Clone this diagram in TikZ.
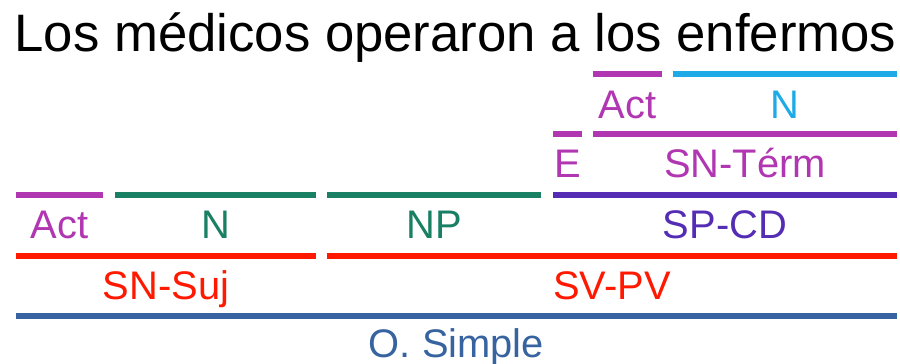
\documentclass[tikz,border=0pt]{standalone}
\usepackage{fontspec}
\setmainfont{Liberation Sans}

\definecolor{actcol}{RGB}{177,54,177}
\definecolor{nucol}{RGB}{30,170,230}
\definecolor{nuccol}{RGB}{25,128,100}
\definecolor{spcol}{RGB}{85,45,180}
\definecolor{svcol}{RGB}{255,25,0}
\definecolor{orcol}{RGB}{55,100,160}

\tikzset{
  bar/.style={line width=3.1pt},
  lbl/.style={anchor=base, inner sep=0pt, font=\fontsize{22.7}{27}\selectfont},
}

\begin{document}
\begin{tikzpicture}[x=0.02cm, y=-0.02cm]
\useasboundingbox (0,0) rectangle (900,364);
\node[anchor=base, inner sep=0pt, font=\fontsize{30}{36}\selectfont] (title) at (455.5,52) {Los médicos operaron a los enfermos};
% los enfermos
\draw[bar,actcol] (593,74) -- (662,74);
\draw[bar,nucol] (673,74) -- (897,74);
\node[lbl,text=actcol] (act2) at (627.5,119) {Act};
\node[lbl,text=nucol] (n2) at (785,119) {N};
% a los enfermos
\draw[bar,actcol] (553,134) -- (582,134);
\draw[bar,actcol] (593,134) -- (897,134);
\node[lbl,text=actcol] (e) at (567.5,178) {E};
\node[lbl,text=actcol] (snterm) at (745,178) {SN-Térm};
% palabras
\draw[bar,actcol] (16,195) -- (103,195);
\draw[bar,nuccol] (115,195) -- (316,195);
\draw[bar,nuccol] (327,195) -- (541,195);
\draw[bar,spcol] (553,195) -- (897,195);
\node[lbl,text=actcol] (act1) at (59.5,239) {Act};
\node[lbl,text=nuccol] (n1) at (215.5,239) {N};
\node[lbl,text=nuccol] (np) at (434,239) {NP};
\node[lbl,text=spcol] (spcd) at (725,239) {SP-CD};
% sujeto y predicado
\draw[bar,svcol] (16,256) -- (316,256);
\draw[bar,svcol] (327,256) -- (897,256);
\node[lbl,text=svcol] (snsuj) at (166,300) {SN-Suj};
\node[lbl,text=svcol] (svpv) at (612,300) {SV-PV};
% oracion
\draw[bar,orcol] (16,316) -- (897,316);
\node[lbl,text=orcol] (osimple) at (456.5,358) {O. Simple};
\end{tikzpicture}
\end{document}
